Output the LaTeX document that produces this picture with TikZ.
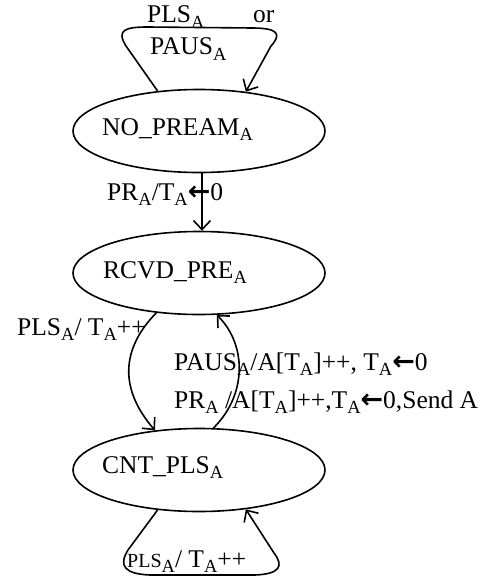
\documentclass[tikz,border=0pt]{standalone}
\usepackage{fontspec}
\setmainfont{Liberation Serif}
\newfontfamily\djv{DejaVu Sans Bold}
\usetikzlibrary{arrows.meta,shapes.geometric}
\newcommand\sbA{\raisebox{-0.2em}{\fontsize{18.5}{18}\selectfont A}}
\newcommand\larr{{\djv\fontsize{27}{20}\selectfont ←}}
\begin{document}
\begin{tikzpicture}[x=1pt,y=-1pt,
  state/.style={draw, line width=1.6pt, ellipse, minimum width=252pt, minimum height=83pt, inner sep=0pt},
  lbl/.style={anchor=base west, inner sep=0pt, font=\fontsize{25.5}{28}\selectfont},
  ln/.style={line width=1.6pt},
  arr/.style={ln, -{Straight Barb[length=9pt,width=17pt,line width=1.6pt]}}]
\useasboundingbox (0,0) rectangle (499,578);
% states
\node[state] (np) at (199,131) {};
\node[state] (rc) at (199,273) {};
\node[state] (cn) at (199,470) {};
\node[lbl] (npt) at (102,135) {NO\_PREAM\sbA};
\node[lbl] (rct) at (103,278) {RCVD\_PRE\sbA};
\node[lbl] (cnt) at (102,473) {CNT\_PLS\sbA};
% self loop NO_PREAM
\draw[arr] (np.136) -- (126,46) .. controls (116,30) and (125,27) .. (148,27) -- (252,28) .. controls (278,28) and (282,34) .. (271,46) -- (np.40);
\node[lbl] (l1a) at (147,23) {PLS\sbA};
\node[lbl] (l1b) at (253,23) {or};
\node[lbl] (l1c) at (150,55) {PAUS\sbA};
% NO_PREAM -> RCVD
\draw[arr] ([xshift=3pt]np.south) -- ([xshift=3pt]rc.north);
\node[lbl] (l2) at (107,200) {PR\sbA/T\sbA\larr0};
% RCVD -> CNT
\draw[arr] (rc.223) .. controls (120,350) and (120,390) .. (cn.138);
\node[lbl] (l3) at (17,335) {PLS\sbA/ T\sbA++};
% CNT -> RCVD
\draw[arr] (cn.71) .. controls (247,395) and (247,345) .. (rc.-67);
\node[lbl] (l4) at (174,370) {PAUS\sbA/A[T\sbA]++, T\sbA\larr0};
\node[lbl] (l5) at (174,408) {PR\sbA\ /A[T\sbA]++,T\sbA\larr0,Send A};
% self loop CNT
\draw[arr] (cn.224) -- (128,550) .. controls (118,566) and (125,574) .. (150,575) -- (255,575) .. controls (280,574) and (284,566) .. (274,553) -- (cn.-40);
\node[lbl] (l6) at (127,567) {{\fontsize{20}{20}\selectfont PLS}\sbA/ T\sbA++};
\end{tikzpicture}
\end{document}
